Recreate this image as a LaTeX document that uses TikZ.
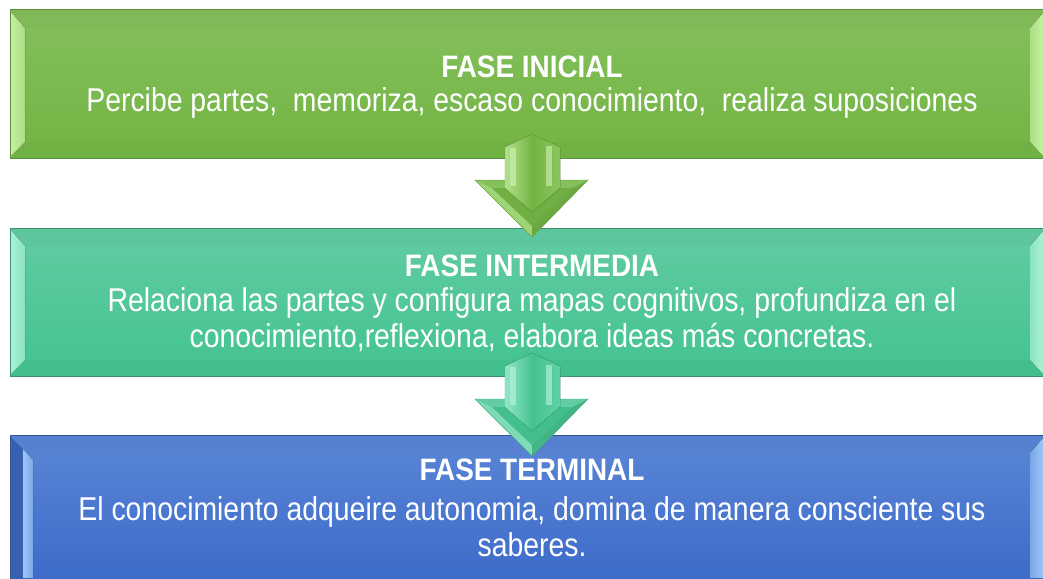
\documentclass[tikz,border=0pt]{standalone}
\usepackage{fontspec}
\setmainfont{Liberation Sans}
\newfontfamily\bodyfont{Liberation Sans}[FakeStretch=0.86]
\newfontfamily\titlefont{Liberation Sans}[FakeStretch=0.9]
\definecolor{gTop}{HTML}{84C05C}
\definecolor{gBot}{HTML}{72B443}
\definecolor{gLight}{HTML}{C6F0A0}
\definecolor{gDark}{HTML}{5E8F3E}
\definecolor{tTop}{HTML}{62CCA2}
\definecolor{tBot}{HTML}{43C390}
\definecolor{tLight}{HTML}{A8F2D6}
\definecolor{tDark}{HTML}{3E8F70}
\definecolor{bTop}{HTML}{5B86D6}
\definecolor{bBot}{HTML}{3A69C8}
\definecolor{bLight}{HTML}{9CC6F7}
\definecolor{bDark}{HTML}{35579A}
\begin{document}
\begin{tikzpicture}[x=1pt,y=-1pt,
  txt/.style={text=white,align=center,font=\bodyfont\fontsize{33}{36}\selectfont},
  ttl/.style={text=white,align=center,font=\titlefont\fontsize{31}{36}\selectfont\bfseries}]
\useasboundingbox (0,0) rectangle (1043,578);
\begin{scope}
\clip (0,0) rectangle (1043,578);
% ---------- green box
\fill[top color=gTop,bottom color=gBot] (10,10) rectangle (1050,158);
\fill[gDark!12!gTop] (10,10) -- (1050,10) -- (1030,28) -- (25,28) -- cycle;
\fill[gDark!8!gBot] (10,158) -- (25,142) -- (1030,142) -- (1050,158) -- cycle;
\fill[left color=gLight,right color=gLight!60!gTop] (10,11) -- (25,28) -- (25,142) -- (10,157) -- cycle;
\fill[left color=gLight!60!gTop,right color=gLight] (1030,28) -- (1043,13) -- (1043,156) -- (1030,142) -- cycle;
\draw[gDark,line width=1pt] (10,10) rectangle (1050,158);
% ---------- teal box
\fill[top color=tTop,bottom color=tBot] (10,228) rectangle (1050,376);
\fill[tDark!10!tTop] (10,228) -- (1050,228) -- (1030,246) -- (25,246) -- cycle;
\fill[tDark!8!tBot] (10,376) -- (25,360) -- (1030,360) -- (1050,376) -- cycle;
\fill[left color=tLight,right color=tLight!60!tTop] (10,229) -- (25,246) -- (25,360) -- (10,375) -- cycle;
\fill[left color=tLight!60!tTop,right color=tLight] (1030,246) -- (1043,231) -- (1043,374) -- (1030,360) -- cycle;
\draw[tDark,line width=1pt] (10,228) rectangle (1050,376);
% ---------- blue box
\fill[top color=bTop,bottom color=bBot] (10,435) rectangle (1050,590);
\fill[bDark!10!bTop] (10,435) -- (1050,435) -- (1030,453) -- (25,453) -- cycle;
\fill[bDark!50!bBot] (10,436) -- (23,449) -- (23,580) -- (10,590) -- cycle;
\fill[left color=bLight,right color=bLight!50!bTop] (23,449) -- (33,460) -- (33,578) -- (23,578) -- cycle;
\fill[left color=bLight!50!bTop,right color=bLight] (1030,453) -- (1043,438) -- (1043,578) -- (1030,578) -- cycle;
\draw[bDark,line width=1pt] (10,435) rectangle (1050,590);
\end{scope}
% ---------- texts
\node[ttl] (t1) at (532,67) {FASE INICIAL};
\node[txt] (b1) at (532,103) {Percibe partes,\ \ memoriza, escaso conocimiento,\ \ realiza suposiciones};
\node[ttl] (t2) at (532,266) {FASE INTERMEDIA};
\node[txt] (b2) at (532,320) {Relaciona las partes y configura mapas cognitivos, profundiza en el\\conocimiento,reflexiona, elabora ideas más concretas.};
\node[ttl] (t3) at (532,470) {FASE TERMINAL};
\node[txt] (b3) at (532,526.5) {El conocimiento adqueire autonomia, domina de manera consciente sus\\saberes.};
% ---------- arrows
\foreach \yy/\ca/\cb/\cl/\cd in {134/gTop/gBot/gLight/gDark, 353/tTop/tBot/tLight/tDark}{
\begin{scope}[shift={(532,\yy)}]
  \fill[\cb] (0,0) -- (-27,13) -- (-27,46) -- (-57,46) -- (0,103) -- (56,46) -- (28,46) -- (28,13) -- cycle;
  \fill[\cl!40!\ca] (-57,46) -- (0,103) -- (0,92) -- (-40,54) -- cycle;
  \fill[\cd!30!\cb] (56,46) -- (0,103) -- (0,92) -- (40,54) -- cycle;
  \fill[\ca] (-57,46) -- (-27,46) -- (-27,54) -- (-40,54) -- cycle;
  \fill[\ca] (56,46) -- (28,46) -- (28,54) -- (40,54) -- cycle;
  \fill[\cd!10!\cb] (-40,54) -- (0,92) -- (40,54) -- (28,54) -- (0,78) -- (-27,54) -- cycle;
  \fill[left color=\cl!70!\ca, right color=\cl!30!\cb, middle color=\cb]
     (0,0) -- (-27,13) -- (-27,54) -- (0,78) -- (28,54) -- (28,13) -- cycle;
  \fill[\cl!80!white, opacity=0.6] (-22,14) rectangle (-16,52);
  \fill[\cl!80!white, opacity=0.6] (14,12) rectangle (20,52);
  \draw[\cd!50!\cb, line width=0.4pt] (0,0) -- (-27,13) -- (-27,46) -- (-57,46) -- (0,103) -- (56,46) -- (28,46) -- (28,13) -- cycle;
\end{scope}}
\end{tikzpicture}
\end{document}
